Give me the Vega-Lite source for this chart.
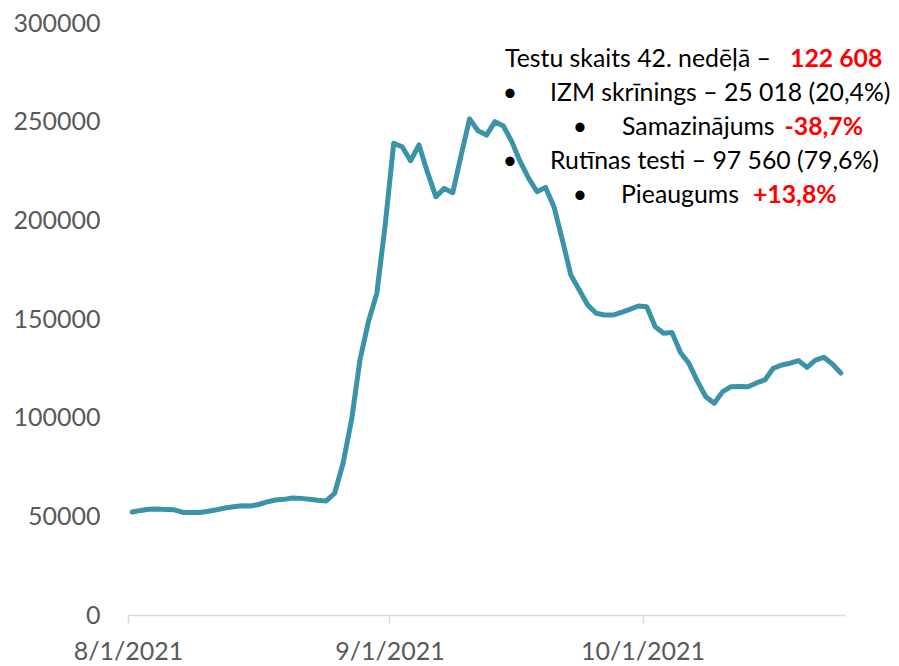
{
  "$schema": "https://vega.github.io/schema/vega-lite/v6.json",
  "width": 717,
  "height": 592,
  "autosize": {"type": "none"},
  "padding": {"left": 128, "top": 23, "right": 54, "bottom": 51},
  "background": "white",
  "config": {
    "view": {"stroke": null},
    "font": "Lato",
    "axis": {"grid": false, "title": null, "labelFont": "Lato", "labelColor": "#595959", "labelFontSize": 25}
  },
  "datasets": {
    "tests": [
      {"date": "2021-08-01", "count": 52200},
      {"date": "2021-08-02", "count": 53000},
      {"date": "2021-08-03", "count": 53600},
      {"date": "2021-08-04", "count": 53700},
      {"date": "2021-08-05", "count": 53500},
      {"date": "2021-08-06", "count": 53300},
      {"date": "2021-08-07", "count": 52000},
      {"date": "2021-08-08", "count": 51900},
      {"date": "2021-08-09", "count": 51900},
      {"date": "2021-08-10", "count": 52600},
      {"date": "2021-08-11", "count": 53300},
      {"date": "2021-08-12", "count": 54200},
      {"date": "2021-08-13", "count": 54900},
      {"date": "2021-08-14", "count": 55400},
      {"date": "2021-08-15", "count": 55200},
      {"date": "2021-08-16", "count": 56000},
      {"date": "2021-08-17", "count": 57300},
      {"date": "2021-08-18", "count": 58300},
      {"date": "2021-08-19", "count": 58600},
      {"date": "2021-08-20", "count": 59300},
      {"date": "2021-08-21", "count": 59100},
      {"date": "2021-08-22", "count": 58700},
      {"date": "2021-08-23", "count": 58100},
      {"date": "2021-08-24", "count": 57800},
      {"date": "2021-08-25", "count": 61700},
      {"date": "2021-08-26", "count": 76900},
      {"date": "2021-08-27", "count": 98800},
      {"date": "2021-08-28", "count": 129200},
      {"date": "2021-08-29", "count": 148600},
      {"date": "2021-08-30", "count": 163000},
      {"date": "2021-08-31", "count": 198000},
      {"date": "2021-09-01", "count": 239000},
      {"date": "2021-09-02", "count": 237300},
      {"date": "2021-09-03", "count": 230200},
      {"date": "2021-09-04", "count": 238200},
      {"date": "2021-09-05", "count": 224400},
      {"date": "2021-09-06", "count": 212000},
      {"date": "2021-09-07", "count": 216200},
      {"date": "2021-09-08", "count": 214000},
      {"date": "2021-09-09", "count": 233100},
      {"date": "2021-09-10", "count": 251400},
      {"date": "2021-09-11", "count": 245400},
      {"date": "2021-09-12", "count": 243200},
      {"date": "2021-09-13", "count": 250000},
      {"date": "2021-09-14", "count": 247800},
      {"date": "2021-09-15", "count": 239900},
      {"date": "2021-09-16", "count": 229700},
      {"date": "2021-09-17", "count": 221300},
      {"date": "2021-09-18", "count": 214500},
      {"date": "2021-09-19", "count": 216700},
      {"date": "2021-09-20", "count": 206900},
      {"date": "2021-09-21", "count": 190000},
      {"date": "2021-09-22", "count": 172300},
      {"date": "2021-09-23", "count": 164700},
      {"date": "2021-09-24", "count": 157100},
      {"date": "2021-09-25", "count": 152900},
      {"date": "2021-09-26", "count": 152000},
      {"date": "2021-09-27", "count": 152000},
      {"date": "2021-09-28", "count": 153400},
      {"date": "2021-09-29", "count": 154900},
      {"date": "2021-09-30", "count": 156600},
      {"date": "2021-10-01", "count": 156200},
      {"date": "2021-10-02", "count": 146100},
      {"date": "2021-10-03", "count": 142800},
      {"date": "2021-10-04", "count": 143100},
      {"date": "2021-10-05", "count": 133000},
      {"date": "2021-10-06", "count": 127500},
      {"date": "2021-10-07", "count": 118500},
      {"date": "2021-10-08", "count": 110600},
      {"date": "2021-10-09", "count": 107300},
      {"date": "2021-10-10", "count": 113200},
      {"date": "2021-10-11", "count": 115700},
      {"date": "2021-10-12", "count": 115800},
      {"date": "2021-10-13", "count": 115700},
      {"date": "2021-10-14", "count": 117600},
      {"date": "2021-10-15", "count": 119100},
      {"date": "2021-10-16", "count": 125000},
      {"date": "2021-10-17", "count": 126700},
      {"date": "2021-10-18", "count": 127600},
      {"date": "2021-10-19", "count": 128900},
      {"date": "2021-10-20", "count": 125500},
      {"date": "2021-10-21", "count": 129200},
      {"date": "2021-10-22", "count": 130600},
      {"date": "2021-10-23", "count": 127200},
      {"date": "2021-10-24", "count": 122608}
    ],
    "notes": [
      {"date": "2021-09-14T16:48:00Z", "value": 277700, "label": "Testu skaits 42. nedēļā –", "kind": "normal"},
      {"date": "2021-10-18T11:30:00Z", "value": 277700, "label": "122 608", "kind": "highlight"},
      {"date": "2021-09-20T00:45:00Z", "value": 260500, "label": "IZM skrīnings – 25 018 (20,4%)", "kind": "normal"},
      {"date": "2021-09-28T13:40:00Z", "value": 243200, "label": "Samazinājums", "kind": "normal"},
      {"date": "2021-10-17T20:00:00Z", "value": 243200, "label": "-38,7%", "kind": "highlight"},
      {"date": "2021-09-20T00:45:00Z", "value": 226000, "label": "Rutīnas testi – 97 560 (79,6%)", "kind": "normal"},
      {"date": "2021-09-28T10:50:00Z", "value": 208800, "label": "Pieaugums", "kind": "normal"},
      {"date": "2021-10-14T02:10:00Z", "value": 208800, "label": "+13,8%", "kind": "highlight"},
      {"date": "2021-09-15T07:00:00Z", "value": 260500, "label": "•", "kind": "bullet"},
      {"date": "2021-09-23T14:10:00Z", "value": 243200, "label": "•", "kind": "bullet"},
      {"date": "2021-09-15T07:00:00Z", "value": 226000, "label": "•", "kind": "bullet"},
      {"date": "2021-09-23T14:10:00Z", "value": 208800, "label": "•", "kind": "bullet"}
    ]
  },
  "encoding": {
    "x": {
      "field": "date",
      "type": "temporal",
      "scale": {"type": "utc", "domain": [{"year": 2021, "month": 8, "date": 1, "utc": true}, {"year": 2021, "month": 10, "date": 25, "utc": true}]},
      "axis": {
        "values": [{"year": 2021, "month": 8, "date": 1, "utc": true}, {"year": 2021, "month": 9, "date": 1, "utc": true}, {"year": 2021, "month": 10, "date": 1, "utc": true}],
        "format": "%-m/%-d/%Y",
        "domainColor": "#D9D9D9",
        "domainWidth": 1.5,
        "tickColor": "#D9D9D9",
        "tickWidth": 1.5,
        "tickSize": 8,
        "labelPadding": 16,
        "labelFlush": false,
        "labelOverlap": false
      }
    },
    "y": {
      "field": "count",
      "type": "quantitative",
      "scale": {"domain": [0, 300000], "nice": false},
      "axis": {
        "values": [0, 50000, 100000, 150000, 200000, 250000, 300000],
        "format": "d",
        "domain": false,
        "ticks": false,
        "tickSize": 0,
        "labelPadding": 28
      }
    }
  },
  "layer": [
    {
      "data": {"name": "tests"},
      "mark": {"type": "line", "color": "#3A93A8", "strokeWidth": 5, "strokeCap": "round", "strokeJoin": "round", "xOffset": 4.2}
    },
    {
      "data": {"name": "notes"},
      "transform": [{"filter": "datum.kind === 'normal'"}],
      "mark": {"type": "text", "align": "left", "baseline": "alphabetic", "font": "Lato", "fontSize": 24.8, "color": "#000000"},
      "encoding": {"y": {"field": "value", "type": "quantitative"}, "text": {"field": "label"}}
    },
    {
      "data": {"name": "notes"},
      "transform": [{"filter": "datum.kind === 'highlight'"}],
      "mark": {"type": "text", "align": "left", "baseline": "alphabetic", "font": "Lato", "fontSize": 24.8, "fontWeight": "bold", "color": "#FF0000"},
      "encoding": {"y": {"field": "value", "type": "quantitative"}, "text": {"field": "label"}}
    },
    {
      "data": {"name": "notes"},
      "transform": [{"filter": "datum.kind === 'bullet'"}],
      "mark": {"type": "text", "align": "center", "baseline": "alphabetic", "font": "Lato", "fontSize": 24.8, "color": "#000000"},
      "encoding": {"y": {"field": "value", "type": "quantitative"}, "text": {"field": "label"}}
    }
  ]
}
